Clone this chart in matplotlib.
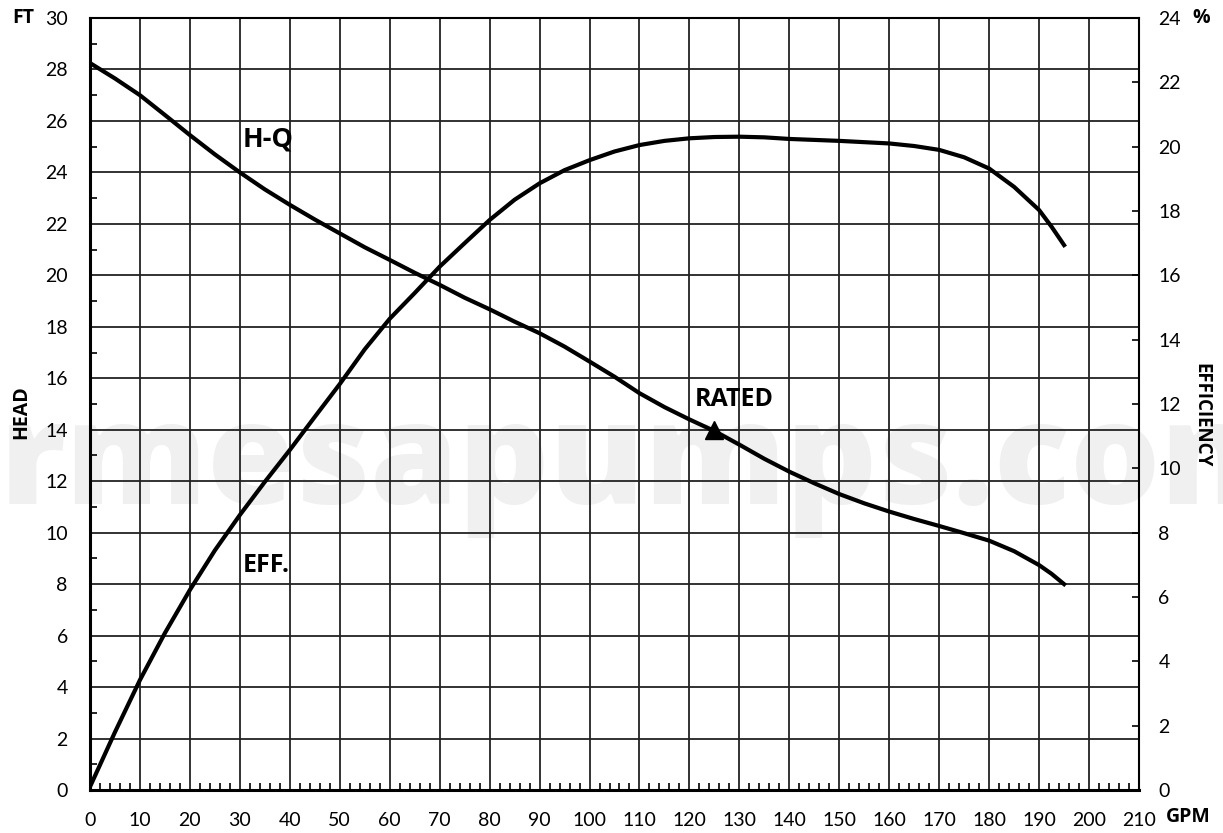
import matplotlib
matplotlib.use("Agg")
import matplotlib.pyplot as plt
import numpy as np

plt.rcParams['font.family'] = ['Lato', 'DejaVu Sans']

# ---- data ----
hq_gpm = [0, 5, 10, 15, 20, 25, 30, 35, 40, 45, 50, 55, 60, 65, 70, 75, 80, 85, 90, 95, 100, 105, 110, 115,
          120, 125, 130, 135, 140, 145, 150, 155, 160, 165, 170, 175, 180, 185, 190, 192.5, 195]
hq_head = [28.25, 27.65, 27.0, 26.23, 25.45, 24.7, 24.0, 23.34, 22.74, 22.17, 21.63, 21.09, 20.6, 20.1,
           19.63, 19.13, 18.68, 18.2, 17.75, 17.23, 16.65, 16.06, 15.42, 14.88, 14.4, 13.95, 13.42, 12.87,
           12.37, 11.92, 11.5, 11.14, 10.82, 10.53, 10.26, 9.98, 9.69, 9.28, 8.74, 8.4, 8.0]

eff_gpm = [0, 5, 10, 15, 20, 25, 30, 35, 40, 45, 50, 55, 60, 65, 70, 75, 80, 85, 90, 95, 100, 105, 110, 115,
           120, 125, 130, 135, 140, 145, 150, 155, 160, 165, 170, 175, 180, 185, 190, 192.5, 195]
eff_pct = [0.1, 1.8, 3.42, 4.88, 6.22, 7.45, 8.55, 9.58, 10.57, 11.6, 12.62, 13.7, 14.65, 15.45, 16.27, 17.0,
           17.72, 18.35, 18.86, 19.27, 19.58, 19.85, 20.05, 20.18, 20.26, 20.3, 20.31, 20.29, 20.24, 20.21,
           20.18, 20.14, 20.1, 20.02, 19.9, 19.67, 19.32, 18.75, 18.03, 17.51, 16.94]

rated_gpm = [125]
rated_head = [14.0]

x_ticks = list(range(0, 211, 10))
head_ticks = list(range(0, 31, 2))
eff_ticks = list(range(0, 25, 2))

BOLD = ['Open Sans', 'DejaVu Sans']

# ---- figure ----
fig = plt.figure(figsize=(12.23, 8.33), dpi=100)
ax = fig.add_axes([90/1223, 43/833, (1139-90)/1223, (790-18)/833])
ax.patch.set_visible(False)

# watermark
fig.text(0.0, 0.395, "rmesapumps.com", fontsize=102, fontweight='heavy', family=BOLD,
         color='#f0f0f0', ha='left', va='baseline', zorder=-10)

ax.set_xlim(0, 210)
ax.set_ylim(0, 30)
ax.set_xticks(x_ticks)
ax.set_yticks(head_ticks)
ax.set_xticks(np.arange(0, 211, 2), minor=True)
ax.set_yticks(np.arange(1, 30, 2), minor=True)
ax.grid(True, which='major', color='#222222', linewidth=1.3, zorder=1)
ax.tick_params(axis='both', which='major', length=0, labelsize=14)
ax.tick_params(axis='x', which='major', pad=16)
ax.tick_params(axis='y', which='major', pad=16)
ax.tick_params(axis='x', which='minor', direction='in', length=5, width=1.2, color='black')
ax.tick_params(axis='y', which='minor', direction='in', length=5, width=1.2, color='black', left=True)

for s in ['left', 'bottom']:
    ax.spines[s].set_linewidth(2.2)
for s in ['top', 'right']:
    ax.spines[s].set_linewidth(1.5)

ax.plot(hq_gpm, hq_head, color='black', linewidth=3.0, solid_joinstyle='round', zorder=5)
ax.plot(rated_gpm, rated_head, marker='^', color='black', markersize=13, linestyle='none', zorder=6)

ax2 = ax.twinx()
ax2.set_ylim(0, 24)
ax2.set_yticks(eff_ticks)
ax2.tick_params(axis='y', which='major', direction='in', length=5, width=1.2, labelsize=14, pad=14)
ax2.plot(eff_gpm, eff_pct, color='black', linewidth=3.0, solid_joinstyle='round', zorder=5)
for s in ax2.spines.values():
    s.set_visible(False)

# labels inside
ax.text(30.6, 25.26, "H-Q", fontsize=19.5, fontweight='bold', family=BOLD, ha='left', va='center', zorder=7)
ax.text(30.6, 8.74, "EFF.", fontsize=18, fontweight='bold', family=BOLD, ha='left', va='center', zorder=7)
ax.text(129, 15.16, "RATED", fontsize=18, fontweight='bold', family=BOLD, ha='center', va='center', zorder=7)

# axis labels
fig.text(23/1223, 1 - 18/833, "FT", fontsize=14, fontweight='bold', family=BOLD, ha='center', va='center')
fig.text(1201/1223, 1 - 18/833, "%", fontsize=14, fontweight='bold', family=BOLD, ha='center', va='center')
fig.text(1188/1223, 1 - 817/833, "GPM", fontsize=14, fontweight='bold', family=BOLD, ha='center', va='center')
fig.text(21/1223, 1 - 412/833, "HEAD", fontsize=14, fontweight='bold', family=BOLD, ha='center', va='center',
         rotation=90)
fig.text(1201/1223, 1 - 415/833, "EFFICIENCY", fontsize=13.5, fontweight='bold', family=BOLD, ha='center',
         va='center', rotation=270)

fig.savefig("out.png", dpi=100)
